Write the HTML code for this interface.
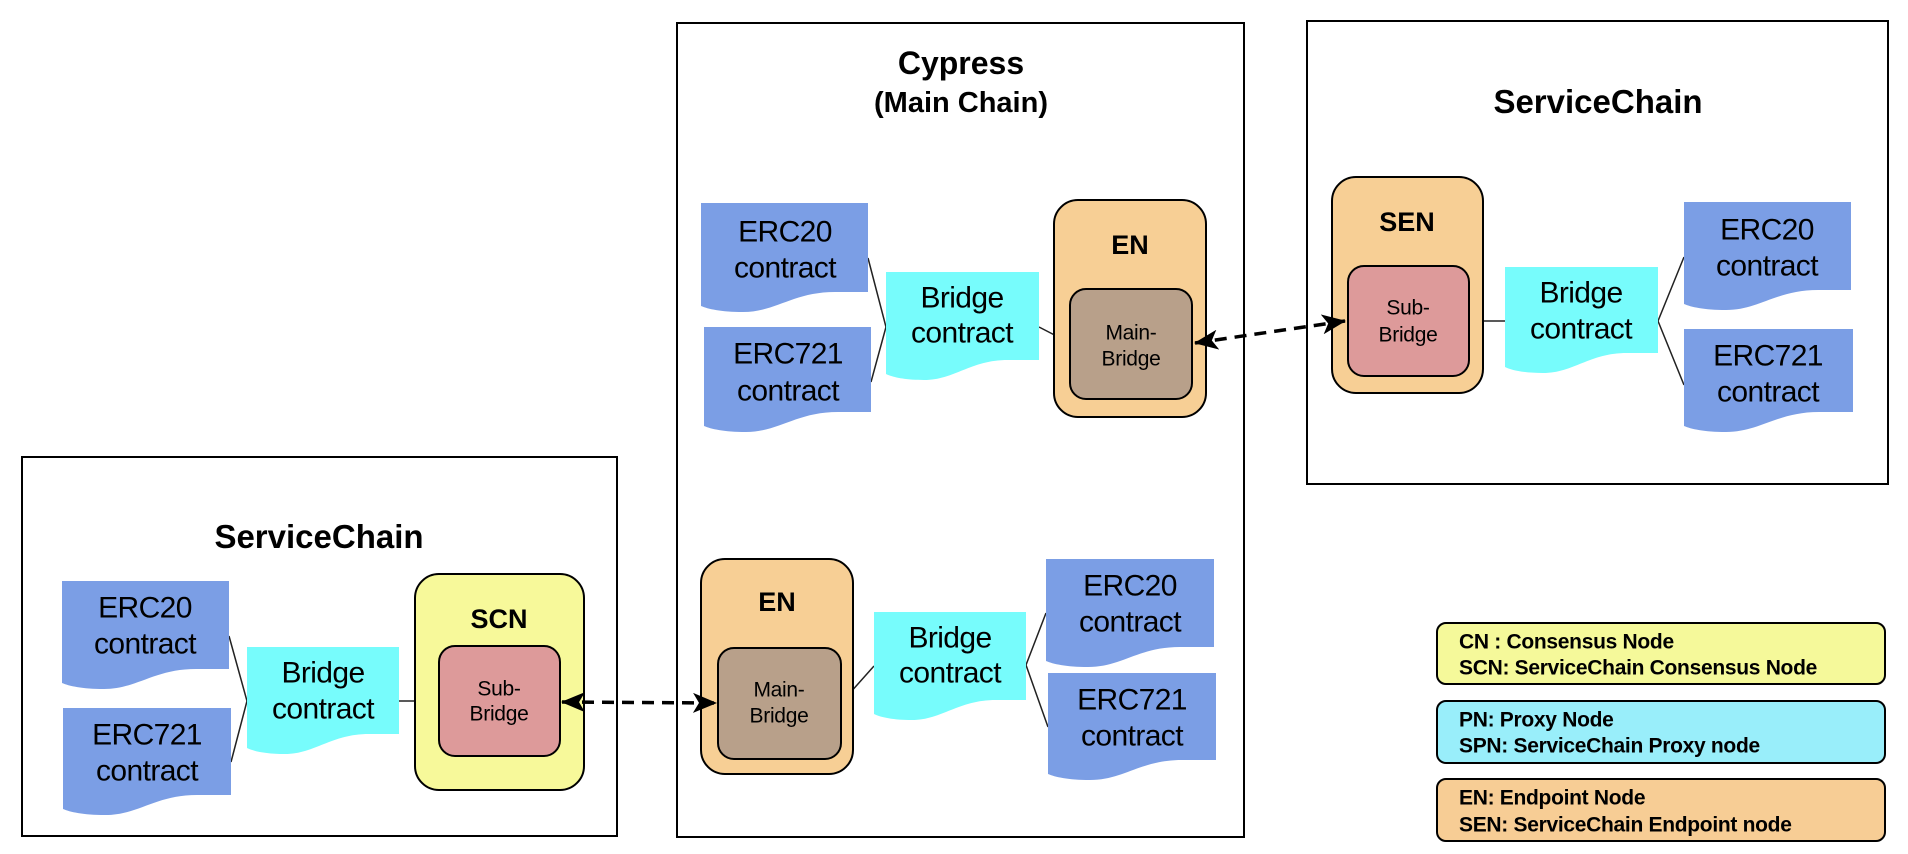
<!DOCTYPE html>
<html><head><meta charset="utf-8"><style>
html,body{margin:0;padding:0;background:#fff}
svg{display:block}
text{font-family:"Liberation Sans",Arial,sans-serif;fill:#000}
.c{font-size:30px;text-anchor:middle;letter-spacing:-0.6px}
.b{font-weight:bold;text-anchor:middle}
.s{font-size:21px;text-anchor:middle;letter-spacing:-0.3px}
.l{font-size:21px;font-weight:bold;letter-spacing:-0.3px}
</style></head><body>
<svg width="1908" height="854" viewBox="0 0 1908 854" xmlns="http://www.w3.org/2000/svg">
<defs>
<marker id="ah" viewBox="0 0 24 20" refX="23" refY="10" markerWidth="24" markerHeight="20" markerUnits="userSpaceOnUse" orient="auto-start-reverse">
<path d="M0,0 L24,10 L0,20 L6,10 Z" fill="#000"/>
</marker>
</defs>
<rect x="677" y="23" width="567" height="814" fill="#fff" stroke="#000" stroke-width="2"/>
<rect x="1307" y="21" width="581" height="463" fill="#fff" stroke="#000" stroke-width="2"/>
<rect x="22" y="457" width="595" height="379" fill="#fff" stroke="#000" stroke-width="2"/>

<text class="b" x="961" y="74" font-size="32">Cypress</text>
<text class="b" x="961" y="112" font-size="29">(Main Chain)</text>
<text class="b" x="1598" y="113" font-size="33">ServiceChain</text>
<text class="b" x="319" y="548" font-size="33">ServiceChain</text>

<g stroke="#222" stroke-width="1.5" fill="none">
<path d="M868 258 L886 327 L871 382"/>
<path d="M1039 327 L1070 343"/>
<path d="M1469 321 L1505 321"/>
<path d="M1684 257 L1658 321 L1684 385"/>
<path d="M841 703 L874 666"/>
<path d="M1046 613 L1026 665 L1048 727"/>
<path d="M229 636 L247 701 L231 762"/>
<path d="M399 701 L439 701"/>
</g>

<g fill="#7b9ee5">
<path d="M701 203 H868 V292 L835 292 C793 292 776 312 743 312 C721 312 708 309 701 306 Z"/>
<path d="M704 327 H871 V412 L838 412 C796 412 779 432 746 432 C724 432 711 429 704 426 Z"/>
<path d="M1684 202 H1851 V290 L1818 290 C1776 290 1759 310 1726 310 C1704 310 1691 307 1684 304 Z"/>
<path d="M1684 329 H1853 V412 L1819 412 C1777 412 1760 432 1726 432 C1704 432 1691 429 1684 426 Z"/>
<path d="M1046 559 H1214 V647 L1180 647 C1138 647 1122 667 1088 667 C1066 667 1053 664 1046 661 Z"/>
<path d="M1048 673 H1216 V760 L1182 760 C1140 760 1124 780 1090 780 C1068 780 1055 777 1048 774 Z"/>
<path d="M62 581 H229 V669 L196 669 C154 669 137 689 104 689 C82 689 69 686 62 683 Z"/>
<path d="M63 708 H231 V795 L197 795 C155 795 139 815 105 815 C83 815 70 812 63 809 Z"/>
</g>
<g fill="#77fcfc">
<path d="M886 272 H1039 V360 L1008 360 C970 360 955 380 924 380 C904 380 892 377 886 374 Z"/>
<path d="M1505 267 H1658 V353 L1627 353 C1589 353 1574 373 1543 373 C1523 373 1511 370 1505 367 Z"/>
<path d="M874 612 H1026 V700 L996 700 C958 700 942 720 912 720 C892 720 880 717 874 714 Z"/>
<path d="M247 647 H399 V734 L369 734 C331 734 315 754 285 754 C265 754 253 751 247 748 Z"/>
</g>

<g dominant-baseline="central">
<text class="c" x="785" y="232">ERC20</text><text class="c" x="785" y="268">contract</text>
<text class="c" x="788" y="354">ERC721</text><text class="c" x="788" y="391">contract</text>
<text class="c" x="962" y="298">Bridge</text><text class="c" x="962" y="333">contract</text>
<text class="c" x="1581" y="293">Bridge</text><text class="c" x="1581" y="329">contract</text>
<text class="c" x="1767" y="230">ERC20</text><text class="c" x="1767" y="266">contract</text>
<text class="c" x="1768" y="356">ERC721</text><text class="c" x="1768" y="392">contract</text>
<text class="c" x="950" y="638">Bridge</text><text class="c" x="950" y="673">contract</text>
<text class="c" x="1130" y="586">ERC20</text><text class="c" x="1130" y="622">contract</text>
<text class="c" x="1132" y="700">ERC721</text><text class="c" x="1132" y="736">contract</text>
<text class="c" x="145" y="608">ERC20</text><text class="c" x="145" y="644">contract</text>
<text class="c" x="147" y="735">ERC721</text><text class="c" x="147" y="771">contract</text>
<text class="c" x="323" y="673">Bridge</text><text class="c" x="323" y="709">contract</text>
</g>

<g stroke="#000" stroke-width="2">
<rect x="1054" y="200" width="152" height="217" rx="24" fill="#f7cf95"/>
<rect x="1070" y="289" width="122" height="110" rx="16" fill="#b8a08a"/>
<rect x="1332" y="177" width="151" height="216" rx="24" fill="#f7cf95"/>
<rect x="1348" y="266" width="121" height="110" rx="16" fill="#dd9a9a"/>
<rect x="701" y="559" width="152" height="215" rx="24" fill="#f7cf95"/>
<rect x="718" y="648" width="123" height="111" rx="16" fill="#b8a08a"/>
<rect x="415" y="574" width="169" height="216" rx="24" fill="#f7f99a"/>
<rect x="439" y="646" width="121" height="110" rx="16" fill="#dd9a9a"/>
</g>
<g dominant-baseline="central">
<text class="b" x="1130" y="245" font-size="27">EN</text>
<text class="s" x="1131" y="333">Main-</text><text class="s" x="1131" y="359">Bridge</text>
<text class="b" x="1407" y="222" font-size="27">SEN</text>
<text class="s" x="1408" y="308">Sub-</text><text class="s" x="1408" y="335">Bridge</text>
<text class="b" x="777" y="602" font-size="27">EN</text>
<text class="s" x="779" y="690">Main-</text><text class="s" x="779" y="716">Bridge</text>
<text class="b" x="499" y="619" font-size="27">SCN</text>
<text class="s" x="499" y="689">Sub-</text><text class="s" x="499" y="714">Bridge</text>
</g>

<g stroke="#000" stroke-width="3.5" stroke-dasharray="12 8" fill="none">
<path d="M1195 343 L1345 321" marker-start="url(#ah)" marker-end="url(#ah)"/>
<path d="M562 702 L716 703" marker-start="url(#ah)" marker-end="url(#ah)"/>
</g>

<g stroke="#000" stroke-width="2">
<rect x="1437" y="623" width="448" height="61" rx="9" fill="#f5f99a"/>
<rect x="1437" y="701" width="448" height="62" rx="9" fill="#99eefa"/>
<rect x="1437" y="779" width="448" height="62" rx="9" fill="#f7cd95"/>
</g>
<g dominant-baseline="central">
<text class="l" x="1459" y="642">CN : Consensus Node</text>
<text class="l" x="1459" y="668">SCN: ServiceChain Consensus Node</text>
<text class="l" x="1459" y="720">PN: Proxy Node</text>
<text class="l" x="1459" y="746">SPN: ServiceChain Proxy node</text>
<text class="l" x="1459" y="798">EN: Endpoint Node</text>
<text class="l" x="1459" y="825">SEN: ServiceChain Endpoint node</text>
</g>
</svg>
</body></html>
